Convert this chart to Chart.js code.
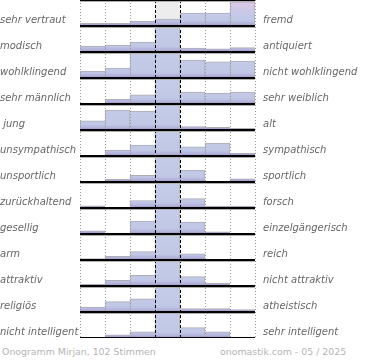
<!DOCTYPE html>
<html><head><meta charset="utf-8">
<script src="https://cdn.jsdelivr.net/npm/chart.js@4.4.0/dist/chart.umd.min.js"></script>
<style>
html,body{margin:0;padding:0;background:#fff;}
#wrap{position:absolute;left:0;top:0;width:370px;height:338px;}
.foot{position:absolute;top:346px;font:9.4px 'DejaVu Sans';line-height:12px;color:#b4b4b4;white-space:nowrap;}
</style></head><body>
<div id="wrap"><canvas id="c"></canvas></div>
<div class="foot" style="left:2px">Onogramm Mirjan, 102 Stimmen</div>
<div class="foot" style="left:220px">onomastik.com - 05 / 2025</div>
<script>
// scale positions (7-step semantic differential)
const categories = ['1', '2', '3', '4', '5', '6', '7'];
const leftLabels = ['sehr vertraut', 'modisch', 'wohlklingend', 'sehr männlich', ' jung', 'unsympathisch',
  'unsportlich', 'zurückhaltend', 'gesellig', 'arm', 'attraktiv', 'religiös', 'nicht intelligent'];
const rightLabels = ['fremd', 'antiquiert', 'nicht wohlklingend', 'sehr weiblich', 'alt', 'sympathisch',
  'sportlich', 'forsch', 'einzelgängerisch', 'reich', 'nicht attraktiv', 'atheistisch', 'sehr intelligent'];

// bar heights in % of row height (100 = full row)
const vertrautFremd      = [11, 11, 19, 27, 50, 50, 93];
const modischAntiquiert  = [23, 27, 38, 100, 15, 12, 17];
const wohlklingend       = [27, 38, 100, 100, 69, 62, 65];
const maennlichWeiblich  = [4, 19, 35, 100, 46, 42, 46];
const jungAlt            = [35, 77, 73, 100, 13, 10, 6];
const sympathisch        = [0, 23, 42, 100, 35, 50, 10];
const sportlich          = [2, 10, 26, 100, 46, 2, 12];
const zurueckForsch      = [8, 3, 29, 100, 36, 7, 7];
const geselligEinzel     = [12, 4, 50, 100, 46, 8, 3];
const armReich           = [5, 14, 32, 100, 24, 0, 0];
const attraktiv          = [7, 22, 41, 100, 36, 10, 3];
const religioesAtheist   = [19, 40, 51, 100, 13, 13, 9];
const intelligent        = [0, 12, 24, 100, 40, 24, 2];

const rows = [vertrautFremd, modischAntiquiert, wohlklingend, maennlichWeiblich, jungAlt, sympathisch,
  sportlich, zurueckForsch, geselligEinzel, armReich, attraktiv, religioesAtheist, intelligent];

const N = rows.length;
const FULL = 100;
const LABEL_OFF = 0.21;
const SHADOW_OFF = 0.05;

function barFill(ctx, r) {
  const chart = ctx.chart, ys = chart.scales.y;
  if (!ys || ys.top === undefined) return '#c2c9e6';
  const b = ys.getPixelForValue(N - 1 - r), t = ys.getPixelForValue(N - r);
  const g = chart.ctx.createLinearGradient(0, b, 0, t);
  g.addColorStop(0, '#9d8ec4');
  g.addColorStop(0.1, '#b4b4dc');
  g.addColorStop(0.22, '#c1c8e6');
  if (r === 0) { g.addColorStop(0.45, '#c4c9e7'); g.addColorStop(1, '#e0c8e6'); }
  else g.addColorStop(1, '#c4cce8');
  return g;
}

const datasets = rows.map((vals, r) => ({
  label: leftLabels[r],
  data: vals.map(v => v > 0 ? [N - 1 - r, N - 1 - r + v / FULL] : null),
  backgroundColor: ctx => barFill(ctx, r),
  borderColor: '#adadb5',
  borderWidth: ctx => {
    const i = ctx.dataIndex, v = vals[i];
    const prev = i > 0 ? vals[i - 1] : -1, next = i < vals.length - 1 ? vals[i + 1] : -1;
    return {top: 1, bottom: 0, left: v >= prev ? 1 : 0, right: v > next ? 1 : 0};
  },
  borderSkipped: false,
  grouped: false,
  barPercentage: 1,
  categoryPercentage: 1,
  order: 1
}));
// shaded centre column
datasets.push({
  label: 'centre',
  data: categories.map((c, i) => i === 3 ? [0, N] : null),
  backgroundColor: '#ededed',
  borderWidth: 0,
  grouped: false,
  barPercentage: 1,
  categoryPercentage: 1,
  order: 2
});

const labelTicks = [];
for (let i = 0; i < N; i++) labelTicks.push(i + LABEL_OFF);
const gridTicks = [];
for (let i = 0; i <= N; i++) { gridTicks.push(i); if (i > 0) gridTicks.push(i - SHADOW_OFF); }

const isInt = v => Math.abs(v - Math.round(v)) < 1e-6;
const isShadow = v => Math.abs((Math.round(v) - v) - SHADOW_OFF) < 1e-6;
const labelFont = {family: 'DejaVu Sans', style: 'italic', size: 10};

new Chart(document.getElementById('c'), {
  type: 'bar',
  data: {labels: categories, datasets},
  options: {
    responsive: true,
    maintainAspectRatio: false,
    animation: false,
    layout: {padding: 0},
    plugins: {legend: {display: false}, tooltip: {enabled: false}},
    scales: {
      x: {
        type: 'category',
        offset: true,
        grid: {
          offset: true, drawTicks: false, z: 1,
          color: ctx => (ctx.index === 3 || ctx.index === 4) ? '#000' : '#9a9a9a',
          lineWidth: 1
        },
        border: {display: false, dash: ctx => (ctx.index === 3 || ctx.index === 4) ? [3, 2] : [1, 2]},
        ticks: {display: false},
        afterFit: s => { s.height = 0; }
      },
      y: {
        type: 'linear', position: 'left', min: 0, max: N,
        afterBuildTicks: s => { s.ticks = labelTicks.concat(gridTicks).sort((a, b) => a - b).map(v => ({value: v})); },
        afterFit: s => { s.width = 80; s.paddingTop = 0; s.paddingBottom = 0; },
        ticks: {
          autoSkip: false, crossAlign: 'far', padding: 1, color: '#666', font: labelFont,
          callback: v => (!isInt(v) && !isShadow(v)) ? leftLabels[N - 1 - Math.floor(v)] : ''
        },
        grid: {
          drawTicks: false, z: 1,
          color: ctx => { const v = ctx.tick ? ctx.tick.value : 0; return isInt(v) ? '#000' : (isShadow(v) ? '#b0b0b0' : 'rgba(0,0,0,0)'); },
          lineWidth: ctx => { const v = ctx.tick ? ctx.tick.value : 0; return isInt(v) ? 2 : 1; }
        },
        border: {display: false}
      },
      y2: {
        type: 'linear', position: 'right', min: 0, max: N,
        afterBuildTicks: s => { s.ticks = labelTicks.map(v => ({value: v})); },
        afterFit: s => { s.width = 115; s.paddingTop = 0; s.paddingBottom = 0; },
        ticks: {
          autoSkip: false, crossAlign: 'near', padding: 8, color: '#666', font: labelFont,
          callback: v => rightLabels[N - 1 - Math.floor(v)]
        },
        grid: {display: false, drawTicks: false},
        border: {display: false}
      }
    }
  }
});
</script>
</body></html>
